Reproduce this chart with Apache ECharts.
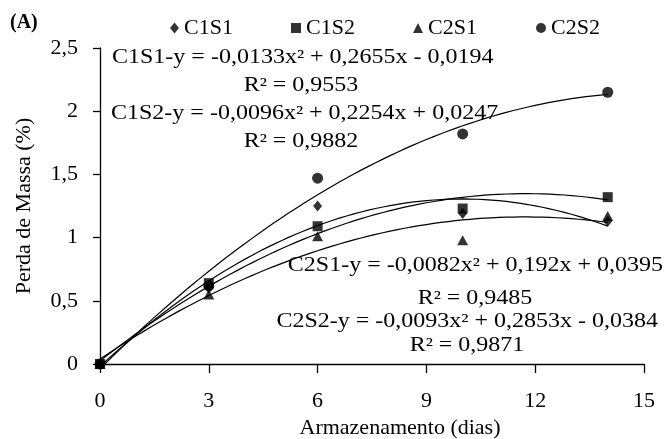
<!DOCTYPE html>
<html>
<head>
<meta charset="utf-8">
<script src="https://cdn.jsdelivr.net/npm/echarts@6/dist/echarts.min.js"></script>
<style>
html,body{margin:0;padding:0;background:#fff;}
#chart{width:667px;height:439px;}
</style>
</head>
<body>
<div id="chart"></div>
<script>
// ---- data ----
const xDays = [0, 3, 6, 10, 14];
const seriesNames = ['C1S1', 'C1S2', 'C2S1', 'C2S2'];
const c1s1 = [0, 0.60, 1.25, 1.19, 1.13];
const c1s2 = [0, 0.64, 1.09, 1.23, 1.32];
const c2s1 = [0, 0.55, 1.01, 0.98, 1.17];
const c2s2 = [0, 0.62, 1.47, 1.82, 2.15];
// trend-line coefficients printed on the chart: [a, b, c] for y = a x² + b x + c
const coefC1S1 = [-0.0133, 0.2655, -0.0194];
const coefC1S2 = [-0.0096, 0.2254, 0.0247];
const coefC2S1 = [-0.0082, 0.192, 0.0395];
const coefC2S2 = [-0.0093, 0.2853, -0.0384];
const eqTexts = [
  'C1S1-y = -0,0133x² + 0,2655x - 0,0194',
  'C1S2-y = -0,0096x² + 0,2254x + 0,0247',
  'C2S1-y = -0,0082x² + 0,192x + 0,0395',
  'C2S2-y = -0,0093x² + 0,2853x - 0,0384'
];
const r2Texts = ['R² = 0,9553', 'R² = 0,9882', 'R² = 0,9485', 'R² = 0,9871'];
const xTicks = [0, 3, 6, 9, 12, 15];
const yTicks = [0, 0.5, 1, 1.5, 2, 2.5];

const FONT = '"Liberation Serif", "Times New Roman", serif';
const values = [c1s1, c1s2, c2s1, c2s2];
const coefs = [coefC1S1, coefC1S2, coefC2S1, coefC2S2];
const symbols = ['diamond', 'rect', 'triangle', 'circle'];
const symSizes = [[9, 11], [10, 10], [11, 10], [11, 11]];

function trend(c) {
  const pts = [];
  for (let i = 0; i <= 70; i++) {
    const x = i * 0.2;
    pts.push([x, c[0] * x * x + c[1] * x + c[2]]);
  }
  return pts;
}

const series = [];
coefs.forEach((c, i) => {
  series.push({
    name: seriesNames[i] + ' tendência',
    type: 'line',
    data: trend(c),
    showSymbol: false,
    symbol: 'none',
    smooth: false,
    lineStyle: { color: '#000', width: 1.2 },
    z: 2,
    silent: true
  });
});
values.forEach((v, i) => {
  series.push({
    name: seriesNames[i],
    type: 'scatter',
    data: xDays.map((x, k) => [x, v[k]]),
    symbol: symbols[i],
    symbolSize: symSizes[i],
    itemStyle: { color: '#000' },
    z: 5
  });
});

const legendLefts = [170, 291, 413, 536];
const legends = seriesNames.map((n, i) => ({
  data: [{ name: n, icon: symbols[i] }],
  left: legendLefts[i],
  top: 17,
  padding: 0,
  itemWidth: i === 0 ? 9 : 10,
  itemHeight: i === 0 ? 11 : 10,
  selectedMode: false,
  textStyle: { fontFamily: FONT, fontSize: 22, color: '#000' }
}));

function eqText(txt, x, y, align) {
  return {
    type: 'text', x: x, y: y, scaleX: 1.2, z: 10,
    style: { text: txt, fontFamily: FONT, fontSize: 20, fill: '#000',
             textAlign: align, textVerticalAlign: 'middle' }
  };
}

const option = {
  backgroundColor: '#fff',
  animation: false,
  title: {
    text: '(A)', left: 10, top: 13, padding: 0,
    textStyle: { fontFamily: FONT, fontWeight: 'bold', fontSize: 20, color: '#000' }
  },
  legend: legends,
  grid: { left: 100, right: 23, top: 48, bottom: 75, containLabel: false, outerBoundsMode: 'none' },
  xAxis: {
    type: 'value', min: 0, max: 15, interval: 3,
    name: 'Armazenamento (dias)', nameLocation: 'middle', nameGap: 52,
    nameTextStyle: { fontFamily: FONT, fontSize: 22, color: '#000', padding: [0, 0, 0, 56] },
    axisLine: { show: true, onZero: false, lineStyle: { color: '#000', width: 1.3 } },
    axisTick: { show: true, inside: false, length: 9, lineStyle: { color: '#000', width: 1.3 } },
    axisLabel: { margin: 26, fontFamily: FONT, fontSize: 22, color: '#000',
                 formatter: v => xTicks.includes(v) ? String(v) : '' },
    splitLine: { show: false }
  },
  yAxis: {
    type: 'value', min: 0, max: 2.5, interval: 0.5,
    name: 'Perda de Massa (%)', nameLocation: 'middle', nameGap: 65, nameRotate: 90,
    nameTextStyle: { fontFamily: FONT, fontSize: 22, color: '#000' },
    axisLine: { show: true, lineStyle: { color: '#000', width: 1.3 } },
    axisTick: { show: true, inside: false, length: 7, lineStyle: { color: '#000', width: 1.3 } },
    axisLabel: { margin: 22, fontFamily: FONT, fontSize: 22, color: '#000',
                 formatter: v => yTicks.includes(v) ? String(v).replace('.', ',') : '' },
    splitLine: { show: false }
  },
  graphic: [
    eqText(eqTexts[0], 112, 58, 'left'),
    eqText(r2Texts[0], 301, 86, 'center'),
    eqText(eqTexts[1], 111, 114, 'left'),
    eqText(r2Texts[1], 301, 142, 'center'),
    eqText(eqTexts[2], 663, 266, 'right'),
    eqText(r2Texts[2], 475, 299, 'center'),
    eqText(eqTexts[3], 658, 322, 'right'),
    eqText(r2Texts[3], 467, 346, 'center')
  ],
  series: series
};

const chart = echarts.init(document.getElementById('chart'), null, { renderer: 'canvas' });
chart.setOption(option);
</script>
</body>
</html>
